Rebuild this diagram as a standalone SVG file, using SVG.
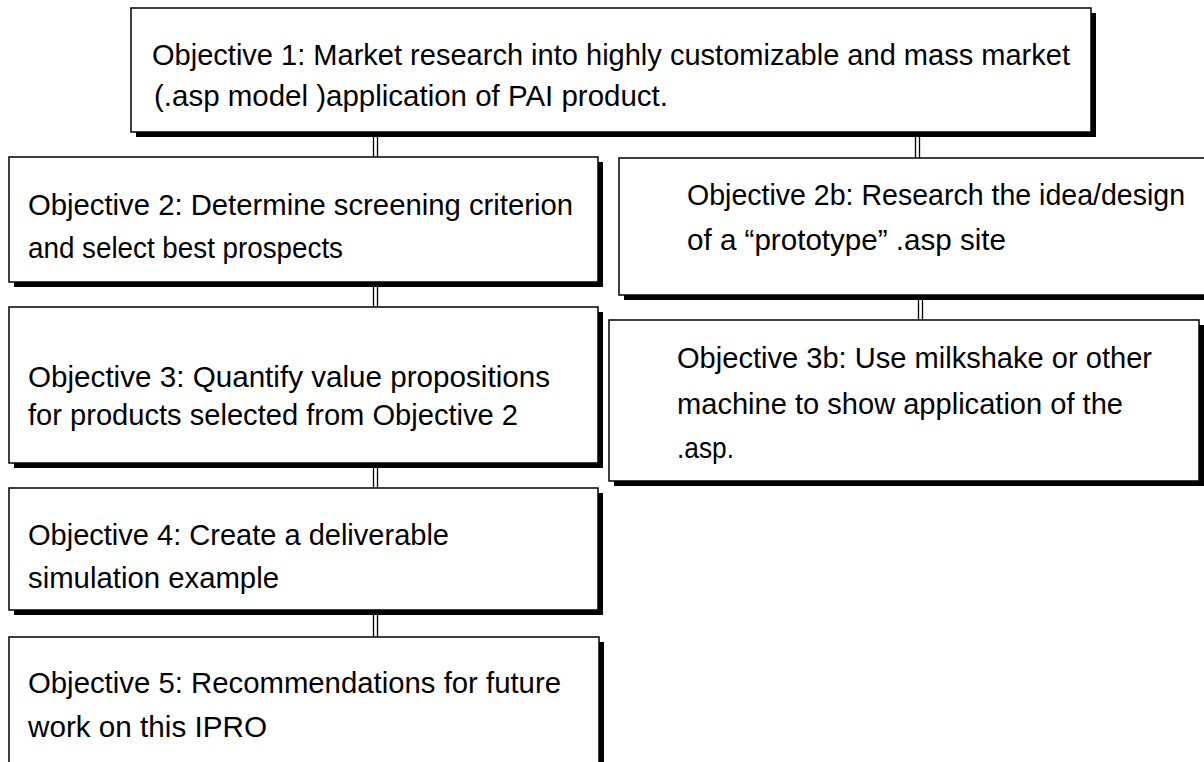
<svg xmlns="http://www.w3.org/2000/svg" width="1204" height="762" viewBox="0 0 1204 762">
<defs>
<style>
.bg{fill:#ffffff}
.sh{fill:#000000}
.bx{fill:#ffffff;stroke:#000000;stroke-width:1.5}
.t{font-family:"Liberation Sans",Arial,sans-serif;font-size:29px;fill:#000000}
.cn{stroke:#000000;stroke-width:1.3;fill:none}
</style>
</defs>
<rect class="bg" x="0" y="0" width="1204" height="762"/>
<g id="connectors">
<path class="cn" d="M373.5,137 V157 M377.5,137 V162"/>
<path class="cn" d="M915.5,137 V158 M919.5,137 V163"/>
<path class="cn" d="M373.5,287 V307 M377.5,287 V312"/>
<path class="cn" d="M373.5,468 V488 M377.5,468 V493"/>
<path class="cn" d="M373.5,615 V637 M377.5,615 V642"/>
<path class="cn" d="M918.5,300 V320 M922.5,300 V325"/>
</g>
<g id="obj1">
<rect class="sh" x="136" y="13" width="960" height="124"/>
<rect class="bx" x="131" y="8" width="960" height="124"/>
<text class="t" x="152" y="65" textLength="918" lengthAdjust="spacingAndGlyphs">Objective 1: Market research into highly customizable and mass market</text>
<text class="t" x="154" y="106" textLength="514" lengthAdjust="spacingAndGlyphs">(.asp model )application of PAI product.</text>
</g>
<g id="obj2">
<rect class="sh" x="14" y="162" width="589" height="125"/>
<rect class="bx" x="9" y="157" width="589" height="125"/>
<text class="t" x="28" y="215" textLength="545" lengthAdjust="spacingAndGlyphs">Objective 2: Determine screening criterion</text>
<text class="t" x="28" y="258" textLength="315" lengthAdjust="spacingAndGlyphs">and select best prospects</text>
</g>
<g id="obj2b">
<rect class="sh" x="624" y="163" width="600" height="137"/>
<rect class="bx" x="619" y="158" width="600" height="137"/>
<text class="t" x="687" y="205" textLength="498" lengthAdjust="spacingAndGlyphs">Objective 2b: Research the idea/design</text>
<text class="t" x="687" y="250" textLength="319" lengthAdjust="spacingAndGlyphs">of a “prototype” .asp site</text>
</g>
<g id="obj3">
<rect class="sh" x="14" y="312" width="589" height="156"/>
<rect class="bx" x="9" y="307" width="589" height="156"/>
<text class="t" x="28" y="387" textLength="522" lengthAdjust="spacingAndGlyphs">Objective 3: Quantify value propositions</text>
<text class="t" x="28" y="425" textLength="490" lengthAdjust="spacingAndGlyphs">for products selected from Objective 2</text>
</g>
<g id="obj3b">
<rect class="sh" x="614" y="325" width="590" height="161"/>
<rect class="bx" x="609" y="320" width="590" height="161"/>
<text class="t" x="677" y="368" textLength="475" lengthAdjust="spacingAndGlyphs">Objective 3b: Use milkshake or other</text>
<text class="t" x="677" y="414" textLength="446" lengthAdjust="spacingAndGlyphs">machine to show application of the</text>
<text class="t" x="677" y="458" textLength="57" lengthAdjust="spacingAndGlyphs">.asp.</text>
</g>
<g id="obj4">
<rect class="sh" x="14" y="493" width="589" height="122"/>
<rect class="bx" x="9" y="488" width="589" height="122"/>
<text class="t" x="28" y="545" textLength="421" lengthAdjust="spacingAndGlyphs">Objective 4: Create a deliverable</text>
<text class="t" x="28" y="588" textLength="251" lengthAdjust="spacingAndGlyphs">simulation example</text>
</g>
<g id="obj5">
<rect class="sh" x="14" y="642" width="590" height="130"/>
<rect class="bx" x="9" y="637" width="590" height="130"/>
<text class="t" x="28" y="693" textLength="533" lengthAdjust="spacingAndGlyphs">Objective 5: Recommendations for future</text>
<text class="t" x="28" y="737" textLength="239" lengthAdjust="spacingAndGlyphs">work on this IPRO</text>
</g>
</svg>
